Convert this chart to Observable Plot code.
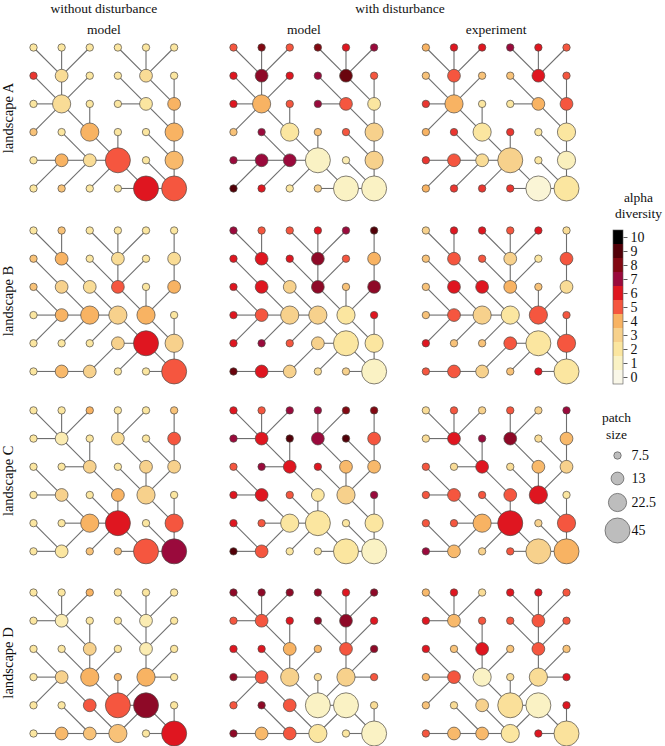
<!DOCTYPE html>
<html><head><meta charset="utf-8">
<script src="https://cdn.jsdelivr.net/npm/d3@7"></script>
<script src="https://cdn.jsdelivr.net/npm/@observablehq/plot@0.6"></script>
<style>body{margin:0;background:#fff}</style>
</head><body><div id="chart"></div>
<script>
// ---------- data ----------
const landscapes = ["A", "B", "C", "D"];
const groupTitles = ["without disturbance", "with disturbance"];
const panelTitles = ["model", "model", "experiment"];
const alphaTicks = [0, 1, 2, 3, 4, 5, 6, 7, 8, 9, 10];
const sizeTicks = [7.5, 13, 22.5, 45];
const sizeTickLabels = ["7.5", "13", "22.5", "45"];
const palette = ["#f9f7e8", "#faf2c4", "#fbe6a0", "#f7d18c", "#f8b363", "#f5563f",
                 "#df1620", "#9a0a3c", "#820812", "#520008", "#000000"];

// flow direction of each patch (6 x 6 grid, row by row): R right, D down, E down-right,
// W down-left, U up-right, L left, O outlet
const flowA = ["EDWEDW", "EDWEED", "REDRED", "UEEDED", "RRREED", "UUURRO"];
const flowB = ["EDEDWD", "EEEDWD", "EEEEDW", "RRREED", "UUURED", "RRUURO"];
const flowC = ["EDWDWD", "REDEED", "EREEDW", "REEDED", "ERREED", "RUURRO"];
const flowD = ["EDWEDW", "REDEDW", "EEDWDW", "REEDWL", "UEERED", "RRRURO"];

// patch sizes
const sizeA = [7.5,7.5,7.5,7.5,7.5,7.5, 7.5,13,7.5,7.5,13,7.5, 7.5,22.5,7.5,7.5,13,13,
               7.5,7.5,22.5,7.5,7.5,22.5, 7.5,13,13,45,7.5,22.5, 7.5,7.5,7.5,7.5,45,45];
const sizeB = [7.5,7.5,7.5,7.5,7.5,7.5, 7.5,13,7.5,13,7.5,13, 7.5,13,13,13,7.5,13,
               7.5,13,22.5,22.5,22.5,7.5, 7.5,7.5,7.5,13,45,22.5, 7.5,13,13,7.5,7.5,45];
const sizeC = [7.5,7.5,7.5,7.5,7.5,7.5, 7.5,13,7.5,13,7.5,13, 7.5,7.5,13,7.5,13,13,
               7.5,13,7.5,13,22.5,7.5, 7.5,7.5,22.5,45,7.5,22.5, 7.5,13,7.5,7.5,45,45];
const sizeD = [7.5,7.5,7.5,7.5,7.5,7.5, 7.5,13,7.5,7.5,13,7.5, 7.5,7.5,13,7.5,13,7.5,
               7.5,13,22.5,7.5,22.5,7.5, 7.5,7.5,13,45,45,7.5, 7.5,13,13,22.5,7.5,45];

// alpha diversity: [without disturbance model, with disturbance model, experiment]
const alphaA0 = [2,2,2,2,2,2, 5.5,2.5,2,2,2.5,2, 2,2.5,2,2,2,4, 3.5,2,4,2,2,4, 2,4,2.5,5,2,3.8, 2,3.5,2,2,6,5];
const alphaA1 = [5,8,5,8,6,7, 6,7.5,6,7,8.5,5, 6,4,5,7,5,2, 3.5,7,2,3.5,5,3, 7,7,7,1,1.5,3, 9,6,2,3,1,1];
const alphaA2 = [4,6,6,7,6,5, 3.5,5,3.5,3.5,6,5, 5.5,4,2,2,4,5, 4,5.5,2,5.5,2,2, 5.5,5,2.5,3,2,1.2, 4,5.5,5.5,5.5,0.5,2];
const alphaB0 = [2,3.5,2,2,2,2, 3.5,4,2,2.5,2,2.5, 3.5,3,2.5,5,2,4, 2,4,4,3,4,2, 2,2,2,3,6,3, 2,3.8,3,2,2,5];
const alphaB1 = [7,5,5,6,7,9, 6,6,6,7.5,5,4, 6,6,3,7.5,3.5,7.5, 6,5,3,3,2,6, 6,7,5,3,2,2, 8.5,6,3,2.5,3,1];
const alphaB2 = [3,6,6,5,6,2.5, 3.5,5,5,3,2,5, 3.5,6,6,4,3.5,2.5, 3.5,5,3,2,5,5, 6,3.5,3.5,5,2,5, 5,5,3,3.5,6,2];
const alphaC0 = [2,2,4,2,2,3.5, 2,1.5,2,2.5,2,5, 2,2,3,2,3,3, 2,3,2,4,3,2, 2,2,4,6,2,5, 2,2,3.5,3.5,5,7];
const alphaC1 = [6,5,7,7,8,8, 7,6,9,7,9,5, 5,7,6,6,3.8,3.8, 6,6,5,2,3,7, 6,5,2,2,2,2, 9,5,2,2,2,1];
const alphaC2 = [2.5,5,3,5,3,7, 2.5,6,7,7.5,2.5,3.8, 5,2.5,6,2.5,3.8,3, 5,5,5,5,6,2, 5,5,4,6,3,5, 7,3.8,3,5,3,4];
const alphaD0 = [2,2,4,2,2,2, 2,1.5,2,2,1.5,2, 2,2,3,2,1.5,2, 2,3,4,3.8,4,2, 2,2,5,5,7.5,2, 2,3.8,3.5,3.5,2,6];
const alphaD1 = [7.5,7.5,7.5,7.5,6,7.5, 5,5,6,7.5,7.5,6, 6,6,4,3.8,5,7.5, 7.5,5,3,2.5,3,5, 5,7.5,5,1,1,2.5, 7.5,3.8,5,2,2,1];
const alphaD2 = [3.8,6,2.5,6,6,5, 6,3.8,5,5,5,5, 6,3.5,6,3.5,5,3.5, 3.8,5,1,2.5,2.5,6, 3.5,2.5,3,2.3,1,6, 5,3.8,3.8,2,6,2.2];

// ---------- build tables ----------
const flows = [flowA, flowB, flowC, flowD];
const sizes = [sizeA, sizeB, sizeC, sizeD];
const alphas = [[alphaA0, alphaA1, alphaA2], [alphaB0, alphaB1, alphaB2],
                [alphaC0, alphaC1, alphaC2], [alphaD0, alphaD1, alphaD2]];
const DIR = {R: [1, 0], D: [0, 1], E: [1, 1], W: [-1, 1], U: [1, -1], L: [-1, 0]};

// layout (grid units)
const XOFF = [0, 7.11, 13.95];
const YOFF = [0, 6.49, 12.87, 19.33];
const X0 = 33, X1 = 566, XD = 18.95, Y0 = 47, Y1 = 733, YD = 24.33;
const ux = px => (px - X0) / (X1 - X0) * XD;
const uy = py => (py - Y0) / (Y1 - Y0) * YD;

const nodes = [], links = [];
landscapes.forEach((L, r) => {
  for (let c = 0; c < 3; c++) {
    for (let k = 0; k < 36; k++) {
      const i = k % 6, j = Math.floor(k / 6);
      const code = flows[r][j][i];
      const x = XOFF[c] + i, y = YOFF[r] + j;
      nodes.push({x, y, size: sizes[r][k], alpha: alphas[r][c][k]});
      if (code !== "O") {
        const [dx, dy] = DIR[code];
        links.push({x1: x, y1: y, x2: x + dx, y2: y + dy});
      }
    }
  }
});

// legend geometry
const LX = ux(618), LHW = ux(623) - ux(618);
const BAR_TOP = uy(230), BAND = uy(244) - uy(230);
const FONT = "'Liberation Serif', 'Times New Roman', serif";
const FS = 13.5;

const chart = Plot.plot({
  width: 665, height: 746, margin: 0,
  style: {fontFamily: FONT, background: "#fff", overflow: "visible", color: "#111"},
  x: {domain: [0, XD], range: [X0, X1], axis: null},
  y: {domain: [0, YD], range: [Y0, Y1], axis: null},
  r: {type: "log", domain: [7.5, 45], range: [3.7, 12.5]},
  color: {type: "linear", domain: alphaTicks, range: palette},
  marks: [
    Plot.link(links, {x1: "x1", y1: "y1", x2: "x2", y2: "y2", stroke: "#6e6e6e", strokeWidth: 1.1}),
    Plot.dot(nodes, {x: "x", y: "y", r: "size", fill: "alpha", stroke: "#4f4a45", strokeWidth: 0.7}),
    // headers
    Plot.text(groupTitles, {x: (d, i) => i === 0 ? XOFF[0] + 2.5 : (XOFF[1] + XOFF[2]) / 2 + 2.5,
      y: () => uy(8), text: d => d, fontSize: FS, fill: "#111"}),
    Plot.text(panelTitles, {x: (d, i) => XOFF[i] + 2.5, y: () => uy(29), text: d => d, fontSize: FS, fill: "#111"}),
    Plot.text(landscapes, {x: () => ux(8), y: (d, i) => YOFF[i] + 2.5, text: d => "landscape " + d,
      rotate: -90, fontSize: 14.5, fill: "#111"}),
    // colour legend
    Plot.text(["alpha", "diversity"], {x: () => ux(638), y: (d, i) => uy(197 + 16 * i), text: d => d, fontSize: FS, fill: "#111"}),
    Plot.rect(alphaTicks, {x1: () => LX - LHW, x2: () => LX + LHW,
      y1: d => BAR_TOP + (10 - d) * BAND, y2: d => BAR_TOP + (11 - d) * BAND, fill: d => d}),
    Plot.rect([0], {x1: () => LX - LHW, x2: () => LX + LHW, y1: () => BAR_TOP, y2: () => BAR_TOP + 11 * BAND,
      fill: "none", stroke: "#555", strokeWidth: 0.6}),
    Plot.link(alphaTicks, {x1: () => LX + LHW, x2: () => ux(627), y1: d => BAR_TOP + (10.5 - d) * BAND,
      y2: d => BAR_TOP + (10.5 - d) * BAND, stroke: "#333", strokeWidth: 0.8}),
    Plot.text(alphaTicks, {x: () => ux(630), y: d => BAR_TOP + (10.5 - d) * BAND, text: d => String(d),
      textAnchor: "start", fontSize: 14, fill: "#111"}),
    // size legend
    Plot.text(["patch", "size"], {x: () => ux(616), y: (d, i) => uy(417 + 17 * i), text: d => d, fontSize: FS, fill: "#111"}),
    Plot.dot(sizeTicks, {x: () => ux(617), y: (d, i) => uy([455, 478, 502, 530][i]), r: d => d,
      fill: "#bdbdbd", stroke: "#555", strokeWidth: 0.7}),
    Plot.text(sizeTicks, {x: () => ux(631), y: (d, i) => uy([455, 478, 502, 530][i]), text: (d, i) => sizeTickLabels[i],
      textAnchor: "start", fontSize: 14, fill: "#111"})
  ]
});
document.getElementById("chart").appendChild(chart);
</script>
</body></html>
